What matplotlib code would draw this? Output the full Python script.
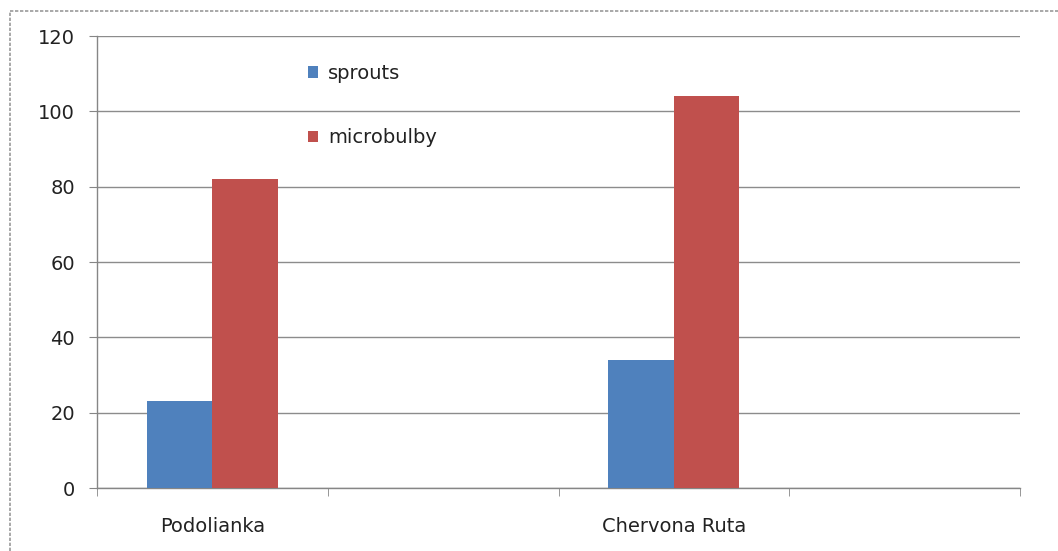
import matplotlib.pyplot as plt
import numpy as np

# Excel-style clustered columns; empty categories keep the spacing
categories = ["Podolianka", "", "Chervona Ruta", ""]
sprouts = [23, 0, 34, 0]
microbulby = [82, 0, 104, 0]
series_names = ["sprouts", "microbulby"]
yticks = [0, 20, 40, 60, 80, 100, 120]

blue = "#4F81BD"
red = "#C0504D"
axis_gray = "#868686"

plt.rcParams["font.family"] = ["DejaVu Sans"]
plt.rcParams["text.color"] = "#222222"

fig = plt.figure(figsize=(10.58, 5.51), dpi=100)
ax = fig.add_axes([97 / 1058, 1 - 488 / 551, (1020 - 97) / 1058, (488 - 36) / 551])

x = np.arange(len(categories))
w = 0.284
ax.bar(x - w / 2, sprouts, w, color=blue, label=series_names[0], zorder=3)
ax.bar(x + w / 2, microbulby, w, color=red, label=series_names[1], zorder=3)

ax.set_xlim(-0.5, len(categories) - 0.5)
ax.set_ylim(0, 120)
ax.set_yticks(yticks)
ax.yaxis.grid(True, color="#8c8c8c", linewidth=1.0, zorder=0)
ax.set_axisbelow(True)

# category labels centred, tick marks at category boundaries
ax.set_xticks(x)
ax.set_xticklabels(categories)
ax.set_xticks(np.arange(-0.5, len(categories), 1.0), minor=True)
ax.tick_params(axis="x", which="major", length=0, pad=21, labelsize=14,
               labelcolor="#222222")
ax.tick_params(axis="x", which="minor", length=6, color=axis_gray, direction="out")
ax.tick_params(axis="y", length=6, color=axis_gray, direction="out", pad=10,
               labelsize=14, labelcolor="#222222")

for side in ["top", "right"]:
    ax.spines[side].set_visible(False)
for side in ["left", "bottom"]:
    ax.spines[side].set_color(axis_gray)
    ax.spines[side].set_linewidth(1.0)

ax.legend(loc="upper left", bbox_to_anchor=(300 / 1058, 1 - 56 / 551),
          bbox_transform=fig.transFigure, frameon=False, fontsize=14,
          handlelength=0.55, handleheight=0.55, handletextpad=0.5,
          labelspacing=2.35, borderaxespad=0)

# outer chart-area border (top and left visible)
fig.add_artist(plt.Line2D([10 / 1058, 1.0], [1 - 11 / 551, 1 - 11 / 551],
                          transform=fig.transFigure, color="#9a9a9a",
                          linewidth=1.2, linestyle=(0, (2, 1))))
fig.add_artist(plt.Line2D([10 / 1058, 10 / 1058], [0.0, 1 - 11 / 551],
                          transform=fig.transFigure, color="#9a9a9a",
                          linewidth=1.2, linestyle=(0, (2, 1))))

fig.savefig("out.png", dpi=100)
